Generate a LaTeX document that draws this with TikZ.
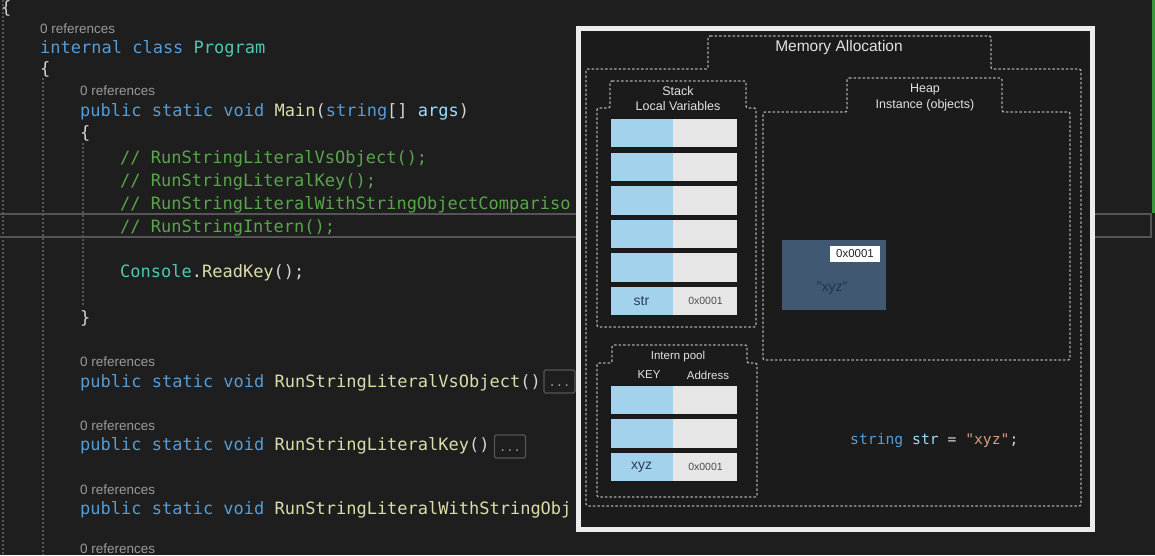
\documentclass[tikz,border=0pt]{standalone}
\usepackage{fontspec}
\setmainfont[Ligatures=TeXOff]{Liberation Sans}
\newfontfamily\codefont[Ligatures=TeXOff]{DejaVu Sans Mono}
\definecolor{bg}{HTML}{1E1E1E}
\definecolor{kw}{HTML}{569CD6}
\definecolor{ty}{HTML}{4EC9B0}
\definecolor{fn}{HTML}{DCDCAA}
\definecolor{cm}{HTML}{57A64A}
\definecolor{pl}{HTML}{D4D4D4}
\definecolor{pm}{HTML}{9CDCFE}
\definecolor{st}{HTML}{D69D85}
\definecolor{lensc}{HTML}{9A9A9A}
\definecolor{guidec}{HTML}{555555}
\definecolor{panelc}{HTML}{1B1B1B}
\definecolor{dotc}{HTML}{A8A8A8}
\definecolor{cellb}{HTML}{A3D2EC}
\definecolor{cellg}{HTML}{E6E6E6}
\definecolor{objc}{HTML}{415873}
\definecolor{objtxt}{HTML}{24344A}
\definecolor{celltxt}{HTML}{2B3E55}
\definecolor{headc}{HTML}{E2E2E2}
\begin{document}
\begin{tikzpicture}[x=1pt,y=-1pt,
  code/.style={font=\codefont\fontsize{17}{20}\selectfont, text=pl, anchor=base west, inner sep=0pt},
  lens/.style={font=\fontsize{13.5}{16}\selectfont, text=lensc, anchor=base west, inner sep=0pt},
  guide/.style={draw=guidec, line width=1.3pt, dash pattern=on 1.5pt off 2.5pt},
  dotsbox/.style={draw=guidec, line width=1.2pt, rounded corners=1.5pt, minimum width=31pt, minimum height=23pt, inner sep=0pt, text height=9pt, text depth=0pt, text=lensc, font=\codefont\fontsize{12}{14}\selectfont},
  frame/.style={draw=dotc, line width=1.4pt, dash pattern=on 2.5pt off 2pt, rounded corners=2pt},
  head/.style={text=headc, inner sep=0pt, font=\fontsize{12.5}{14}\selectfont},
  keycell/.style={fill=cellb, minimum width=63pt, minimum height=30pt, inner sep=0pt, text=celltxt, font=\fontsize{14}{16}\selectfont},
  valcell/.style={fill=cellg, minimum width=65pt, minimum height=30pt, inner sep=0pt, text=black!70, font=\fontsize{10.5}{12}\selectfont},
  rowline/.style={draw=black!90, line width=1.6pt}
]
\useasboundingbox (0,0) rectangle (1155,555);
\fill[bg] (0,0) rectangle (1155,555);

% indent guides
\draw[guide] (3,0) -- (3,555);
\draw[guide] (43,78) -- (43,555);
\draw[guide] (83,143) -- (83,306);

% current line highlight and scrollbar marker
\draw[draw=guidec, line width=1.5pt] (-2,214) rectangle (1151,237);
\draw[draw={rgb,255:red,60;green,150;blue,60}, line width=2.5pt] (1153.5,0) -- (1153.5,213);

% code
\node[code] (l0) at (1,13) {\{};
\node[lens] (r1) at (40,33) {0 references};
\node[code] (l1) at (40,53) {\textcolor{kw}{internal class} \textcolor{ty}{Program}};
\node[code] (l2) at (40,74) {\{};
\node[lens] (r2) at (80,95) {0 references};
\node[code] (l3) at (80,116) {\textcolor{kw}{public static void} \textcolor{fn}{Main}(\textcolor{kw}{string}[] \textcolor{pm}{args})};
\node[code] (l4) at (80,138) {\{};
\node[code] (l5) at (120,163) {\textcolor{cm}{// RunStringLiteralVsObject();}};
\node[code] (l6) at (120,186) {\textcolor{cm}{// RunStringLiteralKey();}};
\node[code] (l7) at (120,209) {\textcolor{cm}{// RunStringLiteralWithStringObjectCompariso}};
\node[code] (l8) at (120,232) {\textcolor{cm}{// RunStringIntern();}};
\node[code] (l9) at (120,277) {\textcolor{ty}{Console}.\textcolor{fn}{ReadKey}();};
\node[code] (l10) at (80,323) {\}};
\node[lens] (r3) at (80,366) {0 references};
\node[code] (l11) at (80,387) {\textcolor{kw}{public static void} \textcolor{fn}{RunStringLiteralVsObject}()};
\node[dotsbox] (e1) at (559.5,381.5) {...};
\node[lens] (r4) at (80,430) {0 references};
\node[code] (l12) at (80,450) {\textcolor{kw}{public static void} \textcolor{fn}{RunStringLiteralKey}()};
\node[dotsbox] (e2) at (510,446.5) {...};
\node[lens] (r5) at (80,494) {0 references};
\node[code] (l13) at (80,514) {\textcolor{kw}{public static void} \textcolor{fn}{RunStringLiteralWithStringObj}};
\node[lens] (r6) at (80,553) {0 references};

% overlay panel
\node[draw={rgb,255:red,236;green,236;blue,236}, fill=panelc, line width=5pt, minimum width=514pt, minimum height=501pt, inner sep=0pt, anchor=north west] (panel) at (576,26) {};

% Memory Allocation frame
\draw[frame] (708,36) -- (991,36) -- (991,69) -- (1081,69) -- (1081,506) -- (586,506) -- (586,69) -- (708,69) -- cycle;
\node[head, font=\fontsize{15.5}{18}\selectfont] (memt) at (839,47) {Memory Allocation};

% Stack frame
\draw[frame] (610,81) -- (746,81) -- (746,108) -- (756,108) -- (756,327) -- (597,327) -- (597,108) -- (610,108) -- cycle;
\node[head] (stk1) at (678,91) {Stack};
\node[head] (stk2) at (678,106) {Local Variables};

% Heap frame
\draw[frame] (847,78) -- (1002,78) -- (1002,112) -- (1070,112) -- (1070,360) -- (763,360) -- (763,112) -- (847,112) -- cycle;
\node[head] (hp1) at (925,89) {Heap};
\node[head] (hp2) at (925,105) {Instance (objects)};

% Intern pool frame
\draw[frame] (612,345) -- (747,345) -- (747,363) -- (757,363) -- (757,497) -- (597,497) -- (597,363) -- (612,363) -- cycle;
\node[head, font=\fontsize{11.5}{13}\selectfont] (ip) at (678,357) {Intern pool};
\node[head, font=\fontsize{11.5}{13}\selectfont] (ipk) at (649,375) {KEY};
\node[head, font=\fontsize{11.5}{13}\selectfont] (ipa) at (708,375) {Address};

% stack rows
\foreach \i/\y/\k/\v in {1/133//, 2/167//, 3/200.5//, 4/234//, 5/267.5//, 6/301/str/0x0001} {
  \node[keycell] (sk\i) at (641.5,\y) {\k};
  \node[valcell] (sv\i) at (705.5,\y) {\v};
  \draw[rowline] (sk\i.north west) rectangle (sv\i.south east);
}

% intern pool rows
\foreach \i/\y/\k/\v in {1/400//, 2/433.5//, 3/467/xyz/0x0001} {
  \node[keycell] (ik\i) at (641.5,\y) {\k};
  \node[valcell] (iv\i) at (705.5,\y) {\v};
  \draw[rowline] (ik\i.north west) rectangle (iv\i.south east);
}

% heap object
\node[fill=objc, minimum width=104pt, minimum height=70pt, inner sep=0pt] (obj) at (834,275) {};
\node[fill=white, minimum width=50pt, minimum height=16pt, inner sep=0pt, text=black!85, font=\fontsize{11.5}{13}\selectfont] (objaddr) at (855,254) {0x0001};
\node[text=objtxt, inner sep=0pt, font=\fontsize{14}{16}\selectfont] (objval) at (832,288) {"xyz"};

% statement
\node[code, font=\codefont\fontsize{14.7}{17}\selectfont] (stmt) at (850,444) {\textcolor{kw}{string} \textcolor{pm}{str} = \textcolor{st}{"xyz"};};
\end{tikzpicture}
\end{document}
